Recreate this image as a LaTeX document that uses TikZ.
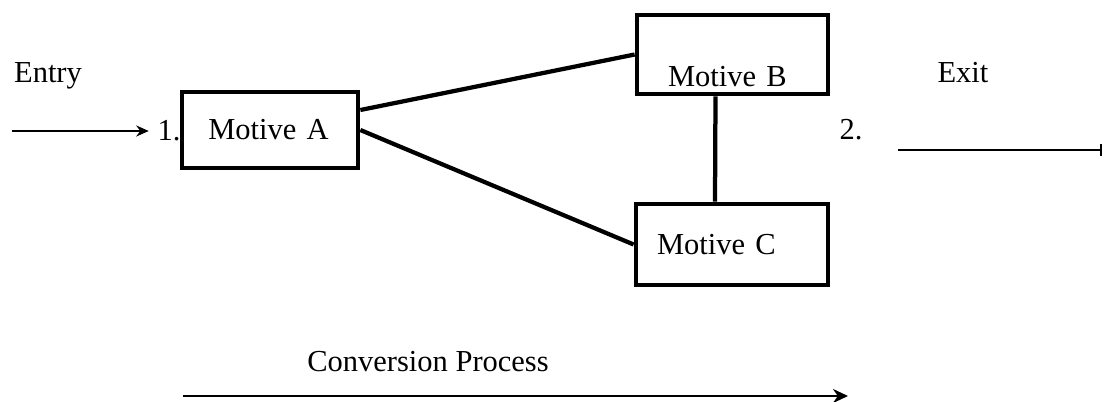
\documentclass[tikz,border=0pt]{standalone}
\usepackage{fontspec}
\setmainfont{Liberation Serif}
\usepackage{tikz}
\usetikzlibrary{
  positioning,
  arrows.meta
}

\tikzset{
	motive/.style={draw, line width=1.9pt, inner ysep=0pt, align=left},
	link/.style={line width=1.7pt},
	flow/.style={line width=0.9pt, -{Stealth[length=5pt,width=4.4pt]}}
}

\begin{document}
\begin{tikzpicture}[x=0.4pt, y=-0.4pt, font=\fontsize{12.2}{14}\selectfont]

	\useasboundingbox (0,0) rectangle (1107,401);

	\node[motive, minimum width=70.4pt, minimum height=30.4pt, inner xsep=10.5pt, text width=49.4pt] (A) at (270,130) {Motive A};
	\node[motive, minimum width=76.4pt, minimum height=31.6pt, inner xsep=12.4pt, text width=51.6pt, text height=26pt] (B) at (732.5,54.5) {Motive B};
	\node[motive, minimum width=76.8pt, minimum height=32.4pt, inner xsep=8.4pt, text width=60pt] (C) at (732,244.5) {Motive C};

	\draw[link] ([yshift=8pt]A.east) -- (B.west);
	\draw[link] (A.east) -- (C.west);
	\draw[link] ([xshift=-6.8pt]B.south) -- ([xshift=-6.8pt]C.north);

	\node (entry) at (48,76) {Entry};
	\coordinate (in) at (12,131);
	\node (one) at (169,131) {1.};
	\draw[flow] (in) -- (one);

	\node (exit) at (963,73) {Exit};
	\node (two) at (851,130) {2.};
	\coordinate (out1) at (898,150);
	\coordinate (out2) at (1102,150);
	\draw[line width=0.9pt, -{Bar[width=5pt]}] (out1) -- (out2);

	\node (conv) at (428,362) {Conversion Process};
	\coordinate (c1) at (183,396);
	\coordinate (c2) at (848,396);
	\draw[line width=1.1pt, -{Stealth[length=6pt,width=5.6pt]}] (c1) -- (c2);

	\end{tikzpicture}
\end{document}
